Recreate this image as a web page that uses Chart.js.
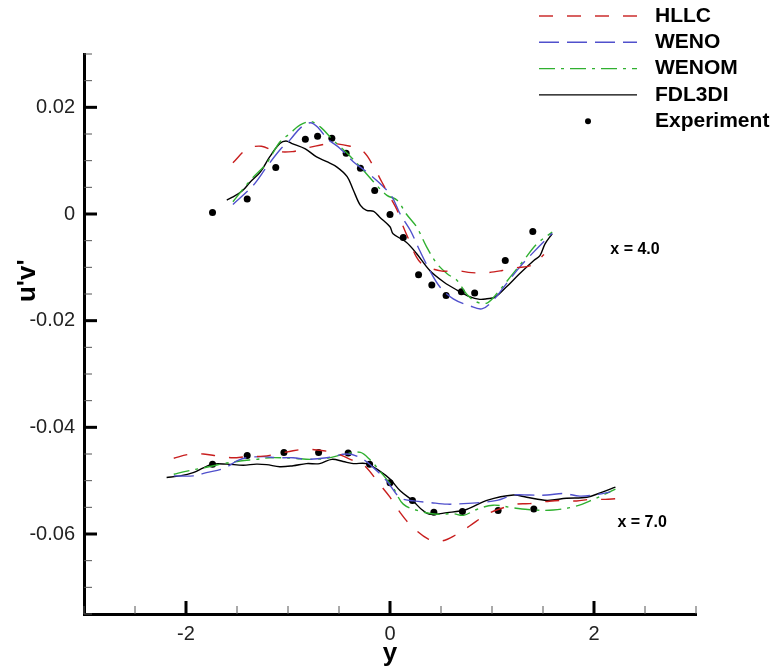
<!DOCTYPE html>
<html>
<head>
<meta charset="utf-8">
<script src="https://cdn.jsdelivr.net/npm/chart.js@4"></script>
<style>
  html, body { margin: 0; padding: 0; background: #fff; }
  #chart { display: block; }
</style>
</head>
<body>
<canvas id="chart" width="777" height="671"></canvas>
<script>
// series names (legend order)
const seriesNames = ['HLLC', 'WENO', 'WENOM', 'FDL3DI', 'Experiment'];
const stationLabels = ['x = 4.0', 'x = 7.0'];
const yTitle = "u'v'";

// ---- station x = 4.0 (upper group) ----
const hllcUpX = [-1.54,-1.40,-1.26,-1.13,-0.96,-0.83,-0.69,-0.56,-0.39,-0.26,-0.15,-0.08,0.0,0.07,0.13,0.18,0.26,0.33,0.51,0.65,0.80,0.95,1.10,1.23,1.39,1.51];
const hllcUpY = [0.0096,0.0122,0.0127,0.0118,0.0117,0.0123,0.0129,0.0132,0.0127,0.0117,0.0085,0.0060,0.0032,0.0007,-0.0024,-0.0046,-0.0081,-0.0096,-0.0107,-0.0106,-0.0110,-0.0110,-0.0106,-0.0101,-0.0096,-0.0076];

const wenoUpX = [-1.54,-1.34,-1.21,-1.08,-0.98,-0.88,-0.78,-0.70,-0.62,-0.49,-0.36,-0.23,-0.08,0.02,0.10,0.20,0.29,0.39,0.49,0.62,0.78,0.90,1.01,1.14,1.27,1.41,1.59];
const wenoUpY = [0.0018,0.0054,0.0088,0.0120,0.0139,0.0161,0.0171,0.0161,0.0142,0.0123,0.0098,0.0079,0.0054,0.0032,0.0,-0.0031,-0.0068,-0.0106,-0.0137,-0.0159,-0.0172,-0.0178,-0.0162,-0.0131,-0.0100,-0.0071,-0.0036];

const wenomUpX = [-1.54,-1.37,-1.21,-1.08,-0.98,-0.88,-0.77,-0.67,-0.56,-0.42,-0.29,-0.16,-0.03,0.07,0.16,0.26,0.36,0.46,0.56,0.66,0.75,0.85,0.95,1.03,1.18,1.31,1.44,1.59];
const wenomUpY = [0.0023,0.0063,0.0095,0.0135,0.0151,0.0167,0.0173,0.0161,0.0139,0.0114,0.0088,0.0060,0.0035,0.0026,0.0,-0.0024,-0.0062,-0.0093,-0.0112,-0.0125,-0.0150,-0.0165,-0.0167,-0.0153,-0.0118,-0.0087,-0.0056,-0.0034];

const fdlUpX = [-1.60,-1.55,-1.45,-1.37,-1.27,-1.18,-1.08,-1.02,-0.96,-0.83,-0.72,-0.62,-0.52,-0.42,-0.36,-0.29,-0.23,-0.16,-0.10,0.0,0.03,0.16,0.26,0.39,0.53,0.66,0.78,0.88,0.95,1.03,1.14,1.27,1.41,1.47,1.52,1.59];
const fdlUpY = [0.0026,0.0031,0.0043,0.0060,0.0079,0.0107,0.0132,0.0137,0.0132,0.0122,0.0107,0.0098,0.0088,0.0070,0.0045,0.0016,0.0007,0.0005,-0.0006,-0.0024,-0.0037,-0.0053,-0.0074,-0.0106,-0.0128,-0.0143,-0.0155,-0.0160,-0.0159,-0.0156,-0.0137,-0.0112,-0.0087,-0.0078,-0.0056,-0.0037];

const expUpX = [-1.74,-1.40,-1.12,-0.83,-0.71,-0.57,-0.43,-0.29,-0.15,0.0,0.13,0.28,0.41,0.55,0.70,0.83,1.13,1.40];
const expUpY = [0.0003,0.0028,0.0087,0.0140,0.0146,0.0142,0.0114,0.0086,0.0044,-0.0001,-0.0044,-0.0114,-0.0133,-0.0153,-0.0146,-0.0148,-0.0087,-0.0033];

// ---- station x = 7.0 (lower group) ----
const hllcLowX = [-2.12,-1.98,-1.83,-1.68,-1.54,-1.41,-1.24,-1.11,-0.95,-0.82,-0.65,-0.52,-0.39,-0.26,-0.10,0.0,0.10,0.21,0.38,0.51,0.65,0.78,0.95,1.06,1.24,1.37,1.54,1.67,1.83,1.96,2.11,2.21];
const hllcLowY = [-0.0458,-0.0451,-0.0450,-0.0454,-0.0457,-0.0455,-0.0454,-0.0450,-0.0444,-0.0441,-0.0444,-0.0449,-0.0460,-0.0470,-0.0507,-0.0531,-0.0560,-0.0585,-0.0610,-0.0613,-0.0601,-0.0585,-0.0563,-0.0554,-0.0544,-0.0543,-0.0539,-0.0537,-0.0538,-0.0535,-0.0535,-0.0534];

const wenoLowX = [-2.12,-1.93,-1.80,-1.63,-1.50,-1.41,-1.24,-1.11,-0.95,-0.82,-0.62,-0.42,-0.29,-0.16,-0.03,0.10,0.23,0.39,0.56,0.72,0.88,1.05,1.21,1.37,1.54,1.70,1.86,2.03,2.16];
const wenoLowY = [-0.0491,-0.0491,-0.0485,-0.0477,-0.0463,-0.0457,-0.0455,-0.0457,-0.0457,-0.0460,-0.0457,-0.0450,-0.0457,-0.0476,-0.0501,-0.0532,-0.0538,-0.0541,-0.0544,-0.0543,-0.0541,-0.0537,-0.0527,-0.0527,-0.0527,-0.0524,-0.0529,-0.0526,-0.0521];

const wenomLowX = [-2.12,-1.99,-1.83,-1.63,-1.47,-1.31,-1.18,-0.95,-0.78,-0.62,-0.42,-0.29,-0.20,-0.10,0.03,0.13,0.29,0.46,0.62,0.72,0.85,1.01,1.21,1.41,1.60,1.80,1.96,2.21];
const wenomLowY = [-0.0488,-0.0482,-0.0476,-0.0468,-0.0463,-0.0460,-0.0457,-0.0458,-0.0460,-0.0458,-0.0449,-0.0447,-0.0460,-0.0482,-0.0513,-0.0544,-0.0557,-0.0563,-0.0562,-0.0565,-0.0554,-0.0546,-0.0551,-0.0555,-0.0555,-0.0549,-0.0538,-0.0516];

const fdlLowX = [-2.19,-2.06,-1.93,-1.83,-1.74,-1.60,-1.44,-1.31,-1.21,-1.08,-0.95,-0.82,-0.69,-0.57,-0.46,-0.36,-0.23,-0.10,0.0,0.10,0.22,0.31,0.39,0.56,0.75,0.95,1.21,1.34,1.54,1.73,1.93,2.06,2.21];
const fdlLowY = [-0.0494,-0.0491,-0.0485,-0.0476,-0.0469,-0.0469,-0.0471,-0.0469,-0.0470,-0.0474,-0.0472,-0.0468,-0.0468,-0.0460,-0.0464,-0.0468,-0.0468,-0.0482,-0.0497,-0.0519,-0.0537,-0.0554,-0.0563,-0.0560,-0.0554,-0.0537,-0.0527,-0.0531,-0.0537,-0.0533,-0.0531,-0.0523,-0.0512];

const expLowX = [-1.74,-1.40,-1.04,-0.70,-0.41,-0.20,0.0,0.22,0.43,0.71,1.06,1.41];
const expLowY = [-0.0469,-0.0453,-0.0447,-0.0447,-0.0448,-0.0469,-0.0504,-0.0537,-0.0559,-0.0558,-0.0556,-0.0553];

// axis ticks
const xMajorTicks = [-2, 0, 2];
const yMajorTicks = [-0.06, -0.04, -0.02, 0, 0.02];

// line styles per series
const styles = {
  HLLC:   { color: '#c81e1e', dash: [14, 14] },
  WENO:   { color: '#5050cc', dash: [20, 8] },
  WENOM:  { color: '#30b030', dash: [16, 6, 3, 6] },
  FDL3DI: { color: '#000000', dash: [] }
};

const FONT = '"Liberation Sans", Arial, sans-serif';

function pts(xs, ys) {
  return xs.map((x, i) => ({ x: x, y: ys[i] }));
}

function curve(name, xs, ys) {
  const s = styles[name];
  return {
    label: name,
    data: pts(xs, ys),
    showLine: true,
    borderColor: s.color,
    borderWidth: 1.4,
    borderDash: s.dash,
    pointRadius: 0,
    tension: 0.35,
    fill: false
  };
}

function expSet(xs, ys) {
  return {
    label: 'Experiment',
    data: pts(xs, ys),
    showLine: false,
    pointRadius: 3.5,
    pointBackgroundColor: '#000',
    pointBorderColor: '#000',
    pointBorderWidth: 0
  };
}

const datasets = [
  curve('HLLC', hllcUpX, hllcUpY),
  curve('WENO', wenoUpX, wenoUpY),
  curve('WENOM', wenomUpX, wenomUpY),
  curve('FDL3DI', fdlUpX, fdlUpY),
  expSet(expUpX, expUpY),
  curve('HLLC', hllcLowX, hllcLowY),
  curve('WENO', wenoLowX, wenoLowY),
  curve('WENOM', wenomLowX, wenomLowY),
  curve('FDL3DI', fdlLowX, fdlLowY),
  expSet(expLowX, expLowY)
];

// inward tick marks, legend, station labels and y title
const decor = {
  id: 'decor',
  afterDraw(chart) {
    const ctx = chart.ctx;
    const sx = chart.scales.x, sy = chart.scales.y;
    const a = chart.chartArea;
    ctx.save();
    for (let i = 0; i <= 12; i++) {
      const v = -3 + 0.5 * i;
      const major = xMajorTicks.includes(v);
      const px = sx.getPixelForValue(v);
      ctx.lineWidth = major ? 3 : 1;
      ctx.strokeStyle = major ? '#000' : '#555';
      ctx.beginPath();
      ctx.moveTo(px, a.bottom);
      ctx.lineTo(px, a.bottom - (major ? 13 : 8));
      ctx.stroke();
    }
    for (let i = 0; i <= 21; i++) {
      const v = -0.075 + 0.005 * i;
      const major = yMajorTicks.some(t => Math.abs(t - v) < 1e-9);
      const py = sy.getPixelForValue(v);
      ctx.lineWidth = major ? 3 : 1;
      ctx.strokeStyle = major ? '#000' : '#555';
      ctx.beginPath();
      ctx.moveTo(a.left, py);
      ctx.lineTo(a.left + (major ? 13 : 8), py);
      ctx.stroke();
    }

    // legend
    ctx.font = 'bold 21px ' + FONT;
    ctx.textBaseline = 'middle';
    ctx.textAlign = 'left';
    ctx.fillStyle = '#000';
    seriesNames.forEach((name, i) => {
      const y = 16 + i * 26.3;
      if (styles[name]) {
        ctx.strokeStyle = styles[name].color;
        ctx.lineWidth = 1.4;
        ctx.setLineDash(styles[name].dash);
        ctx.beginPath();
        ctx.moveTo(539, y);
        ctx.lineTo(637, y);
        ctx.stroke();
        ctx.setLineDash([]);
      } else {
        ctx.beginPath();
        ctx.arc(588, y, 3, 0, Math.PI * 2);
        ctx.fill();
      }
      ctx.fillText(name, 655, y);
    });

    // station labels
    ctx.font = 'bold 16px ' + FONT;
    ctx.fillText(stationLabels[0], sx.getPixelForValue(2.16), sy.getPixelForValue(-0.0066));
    ctx.fillText(stationLabels[1], sx.getPixelForValue(2.23), sy.getPixelForValue(-0.0578));

    // y axis title, rotated
    ctx.font = 'bold 26px ' + FONT;
    ctx.textAlign = 'center';
    ctx.translate(28, sy.getPixelForValue(-0.0125));
    ctx.rotate(-Math.PI / 2);
    ctx.fillText(yTitle, 0, 0);
    ctx.restore();
  }
};

new Chart(document.getElementById('chart'), {
  type: 'scatter',
  data: { datasets: datasets },
  options: {
    responsive: false,
    animation: false,
    layout: { padding: { top: 54, right: 81, left: 0, bottom: 0 } },
    plugins: { legend: { display: false }, tooltip: { enabled: false } },
    scales: {
      x: {
        type: 'linear',
        min: -3, max: 3,
        grid: { display: false, drawTicks: false },
        border: { display: true, color: '#000', width: 3 },
        afterBuildTicks: s => { s.ticks = xMajorTicks.map(v => ({ value: v })); },
        ticks: {
          padding: 8,
          color: '#222',
          font: { family: FONT, size: 20 },
          callback: v => String(v)
        },
        title: {
          display: true, text: 'y', color: '#000',
          font: { family: FONT, size: 26, weight: 'bold' },
          padding: { top: 0, bottom: 2 }
        },
        afterFit: s => { s.height = 57; }
      },
      y: {
        min: -0.075, max: 0.03,
        grid: { display: false, drawTicks: false },
        border: { display: true, color: '#000', width: 3 },
        afterBuildTicks: s => { s.ticks = yMajorTicks.map(v => ({ value: v })); },
        ticks: {
          padding: 9,
          color: '#222',
          font: { family: FONT, size: 20 },
          callback: v => String(Number(v.toFixed(2)))
        },
        title: { display: false },
        afterFit: s => { s.width = 84; }
      }
    }
  },
  plugins: [decor]
});
</script>
</body>
</html>
